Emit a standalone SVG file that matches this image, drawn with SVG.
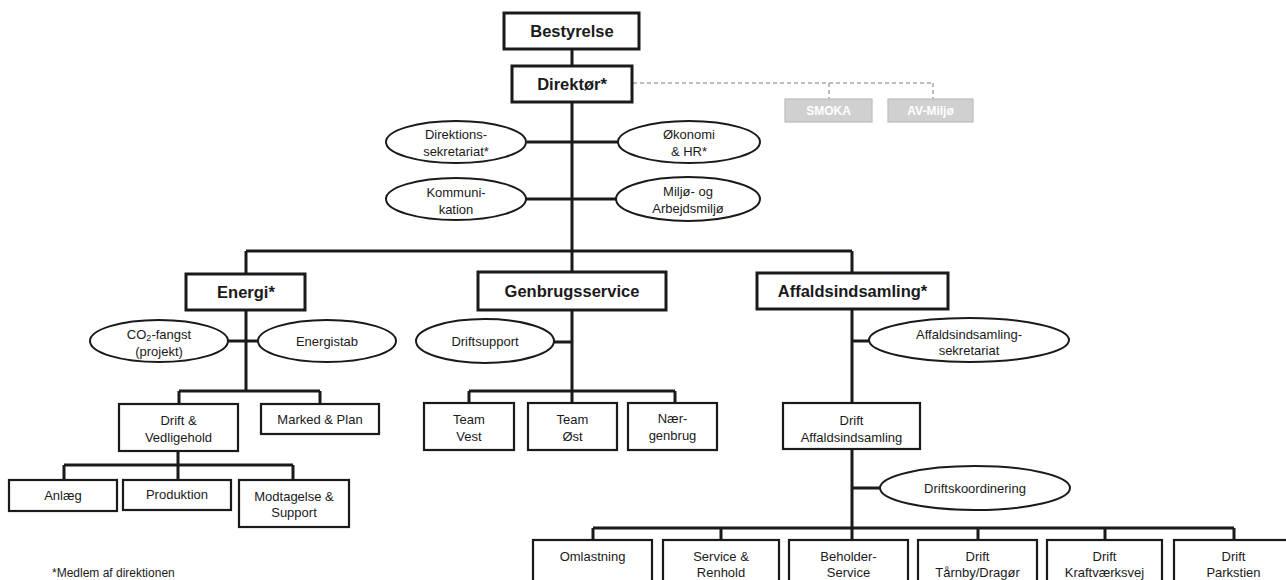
<svg xmlns="http://www.w3.org/2000/svg" width="1286" height="580" viewBox="0 0 1286 580">
<style>
  .bg{fill:#ffffff}
  .box{fill:#ffffff;stroke:#1a1a1a;stroke-width:2.2}
  .mbox{fill:#ffffff;stroke:#1a1a1a;stroke-width:3}
  .ell{fill:#ffffff;stroke:#1a1a1a;stroke-width:2}
  .gbox{fill:#d0d0d0;stroke:#bdbdbd;stroke-width:1.2}
  .ln{fill:none;stroke:#1a1a1a;stroke-width:3}
  .dash{fill:none;stroke:#a8a8a8;stroke-width:1.5;stroke-dasharray:4 3}
  .t{font-family:"Liberation Sans",Arial,sans-serif;font-size:13px;fill:#1a1a1a;text-anchor:middle;dominant-baseline:central}
  .tb{font-family:"Liberation Sans",Arial,sans-serif;font-size:16.5px;font-weight:bold;fill:#1a1a1a;text-anchor:middle;dominant-baseline:central}
  .tg{font-family:"Liberation Sans",Arial,sans-serif;font-size:12px;font-weight:bold;fill:#ffffff;text-anchor:middle;dominant-baseline:central}
  .note{font-family:"Liberation Sans",Arial,sans-serif;font-size:12px;fill:#1a1a1a}
</style>
<rect class="bg" x="0" y="0" width="1286" height="580"/>

<g id="connectors">
  <path class="ln" d="M572 49V66M572 102V251"/>
  <path class="ln" d="M246 251H852"/>
  <path class="ln" d="M527 142H618M526 199H616"/>
  <path class="dash" d="M633 83H933M829 83V99M933 83V99"/>
  <!-- Energi -->
  <path class="ln" d="M246 251V274M246 310V391M228 341H258"/>
  <path class="ln" d="M179 391H320M179 391V404M320 391V404"/>
  <path class="ln" d="M178 451V465M64 465H293M64 465V480M178 465V480M293 465V480"/>
  <!-- Genbrugsservice -->
  <path class="ln" d="M572 251V272M572 310V391M554 342H572"/>
  <path class="ln" d="M469 391H675M469 391V403M572 391V403M675 391V403"/>
  <!-- Affaldsindsamling -->
  <path class="ln" d="M852 251V273M852 309V403M852 341H869"/>
  <path class="ln" d="M852 449V528M852 488H880"/>
  <path class="ln" d="M593 528H1234M593 528V540M721 528V540M852 528V540M978 528V540M1105 528V540M1234 528V540"/>
</g>

<g id="bestyrelse"><rect class="mbox" x="504" y="13" width="135" height="36"/><text class="tb" x="572" y="31">Bestyrelse</text></g>
<g id="direktor"><rect class="mbox" x="512" y="66" width="120" height="36"/><text class="tb" x="572" y="84">Direktør*</text></g>
<g id="smoka"><rect class="gbox" x="785" y="99" width="87" height="23"/><text class="tg" x="828.5" y="110.5">SMOKA</text></g>
<g id="avmiljo"><rect class="gbox" x="888" y="99" width="85" height="23"/><text class="tg" x="930.5" y="110.5">AV-Miljø</text></g>

<g id="direktionssekretariat"><ellipse class="ell" cx="456" cy="142" rx="70" ry="21"/><text class="t" x="456" y="134">Direktions-</text><text class="t" x="456" y="151">sekretariat*</text></g>
<g id="okonomi"><ellipse class="ell" cx="689" cy="142" rx="71" ry="21"/><text class="t" x="689" y="134">Økonomi</text><text class="t" x="689" y="151">&amp; HR*</text></g>
<g id="kommunikation"><ellipse class="ell" cx="456" cy="199" rx="70" ry="21"/><text class="t" x="456" y="192">Kommuni-</text><text class="t" x="456" y="209">kation</text></g>
<g id="miljo"><ellipse class="ell" cx="688" cy="199" rx="72" ry="22"/><text class="t" x="688" y="191">Miljø- og</text><text class="t" x="688" y="208">Arbejdsmiljø</text></g>

<g id="energi"><rect class="mbox" x="186" y="274" width="119" height="36"/><text class="tb" x="246" y="292">Energi*</text></g>
<g id="co2"><ellipse class="ell" cx="159" cy="341" rx="69" ry="21"/><text class="t" x="159" y="334">CO<tspan font-size="9" dy="4">2</tspan><tspan dy="-4">-fangst</tspan></text><text class="t" x="159" y="351">(projekt)</text></g>
<g id="energistab"><ellipse class="ell" cx="327" cy="341" rx="69" ry="21"/><text class="t" x="327" y="341">Energistab</text></g>
<g id="drift-vedligehold"><rect class="box" x="119" y="404" width="119" height="47"/><text class="t" x="178.5" y="420">Drift &amp;</text><text class="t" x="178.5" y="437">Vedligehold</text></g>
<g id="marked-plan"><rect class="box" x="261" y="404" width="118" height="30"/><text class="t" x="320" y="419">Marked &amp; Plan</text></g>
<g id="anlaeg"><rect class="box" x="9" y="480" width="108" height="31"/><text class="t" x="63" y="495">Anlæg</text></g>
<g id="produktion"><rect class="box" x="123" y="480" width="108" height="30"/><text class="t" x="177" y="494">Produktion</text></g>
<g id="modtagelse"><rect class="box" x="239" y="480" width="110" height="47"/><text class="t" x="294" y="496">Modtagelse &amp;</text><text class="t" x="294" y="512">Support</text></g>

<g id="genbrugsservice"><rect class="mbox" x="478" y="272" width="188" height="38"/><text class="tb" x="572" y="291">Genbrugsservice</text></g>
<g id="driftsupport"><ellipse class="ell" cx="485" cy="341" rx="69" ry="22"/><text class="t" x="485" y="341">Driftsupport</text></g>
<g id="team-vest"><rect class="box" x="424" y="403" width="90" height="47"/><text class="t" x="469" y="419">Team</text><text class="t" x="469" y="436">Vest</text></g>
<g id="team-ost"><rect class="box" x="528" y="403" width="89" height="47"/><text class="t" x="572.5" y="419">Team</text><text class="t" x="572.5" y="436">Øst</text></g>
<g id="naergenbrug"><rect class="box" x="628" y="403" width="89" height="47"/><text class="t" x="672.5" y="418">Nær-</text><text class="t" x="672.5" y="435">genbrug</text></g>

<g id="affaldsindsamling"><rect class="mbox" x="757" y="273" width="191" height="36"/><text class="tb" x="852.5" y="291">Affaldsindsamling*</text></g>
<g id="affald-sekretariat"><ellipse class="ell" cx="969" cy="340" rx="100" ry="22"/><text class="t" x="969" y="334">Affaldsindsamling-</text><text class="t" x="969" y="350">sekretariat</text></g>
<g id="drift-affaldsindsamling"><rect class="box" x="783" y="403" width="137" height="46"/><text class="t" x="851.5" y="420">Drift</text><text class="t" x="851.5" y="437">Affaldsindsamling</text></g>
<g id="driftskoordinering"><ellipse class="ell" cx="975" cy="488" rx="95" ry="22"/><text class="t" x="975" y="488">Driftskoordinering</text></g>

<g id="omlastning"><rect class="box" x="533" y="540" width="119" height="50"/><text class="t" x="592.5" y="556">Omlastning</text></g>
<g id="service-renhold"><rect class="box" x="663" y="540" width="116" height="50"/><text class="t" x="721" y="556">Service &amp;</text><text class="t" x="721" y="572">Renhold</text></g>
<g id="beholder-service"><rect class="box" x="789" y="540" width="119" height="50"/><text class="t" x="848.5" y="556">Beholder-</text><text class="t" x="848.5" y="572">Service</text></g>
<g id="drift-tarnby"><rect class="box" x="918" y="540" width="119" height="50"/><text class="t" x="977.5" y="556">Drift</text><text class="t" x="977.5" y="572">Tårnby/Dragør</text></g>
<g id="drift-kraftvaerksvej"><rect class="box" x="1047" y="540" width="115" height="50"/><text class="t" x="1104.5" y="556">Drift</text><text class="t" x="1104.5" y="572">Kraftværksvej</text></g>
<g id="drift-parkstien"><rect class="box" x="1174" y="540" width="119" height="50"/><text class="t" x="1233.5" y="556">Drift</text><text class="t" x="1233.5" y="572">Parkstien</text></g>

<text class="note" x="52" y="577">*Medlem af direktionen</text>
</svg>
